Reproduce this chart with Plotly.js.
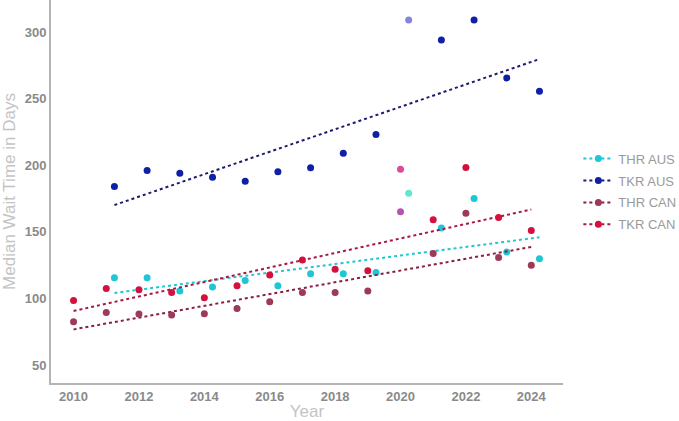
<!DOCTYPE html>
<html>
<head>
<meta charset="utf-8">
<script src="https://cdn.plot.ly/plotly-3.0.1.min.js"></script>
<style>
  html, body { margin: 0; padding: 0; background: #fff; }
  #chart { width: 679px; height: 421px; }
</style>
</head>
<body>
<div id="chart"></div>
<script>
// canada points sit on the calendar year, australia points a quarter later (fiscal year)
let can_years = [2010, 2011, 2012, 2013, 2014, 2015, 2016, 2017, 2018, 2019, 2020, 2021, 2022, 2023, 2024];
let aus_years = [2011.25, 2012.25, 2013.25, 2014.25, 2015.25, 2016.25, 2017.25, 2018.25, 2019.25, 2020.25, 2021.25, 2022.25, 2023.25, 2024.25];

let thr_aus = [115.5, 115.5, 105.5, 108.5, 113.5, 109.5, 118.5, 118.5, 119.5, 179, 152.8, 175, 134.8, 129.8];
let tkr_aus = [184, 196, 194, 191, 188, 195, 198, 209, 223, 309, 294, 309, 265.5, 255.5];
let thr_can = [82.5, 89.5, 88.3, 87.5, 88.5, 92.5, 97.5, 104.5, 104.5, 105.5, 165, 133.8, 164, 130.8, 124.8];
let tkr_can = [98.5, 107.5, 106.5, 104.5, 100.5, 109.5, 117.5, 128.8, 121.8, 120.8, 197, 159, 198.2, 160.8, 151];

// 2020 (covid) is drawn lighter and left out of the trend lines
let skip_year = 2020;

let series = [
    { name: "THR AUS", x: aus_years, y: thr_aus, color: "#1fc6d6", light: "#5ce8d2", trend: "#1fc6d6" },
    { name: "TKR AUS", x: aus_years, y: tkr_aus, color: "#1020a6", light: "#8484dc", trend: "#1c1c6e" },
    { name: "THR CAN", x: can_years, y: thr_can, color: "#9c3a58", light: "#b454b0", trend: "#8a1e44" },
    { name: "TKR CAN", x: can_years, y: tkr_can, color: "#d4103e", light: "#d84c98", trend: "#a81840" }
];

function fitLine(xs, ys) {
    let px = [], py = [];
    for (let i = 0; i < xs.length; i++) {
        if (Math.floor(xs[i]) == skip_year) continue;
        px.push(xs[i]);
        py.push(ys[i]);
    }
    let n = px.length, mx = 0, my = 0;
    for (let i = 0; i < n; i++) { mx += px[i]; my += py[i]; }
    mx /= n; my /= n;
    let sxy = 0, sxx = 0;
    for (let i = 0; i < n; i++) {
        sxy += (px[i] - mx) * (py[i] - my);
        sxx += (px[i] - mx) * (px[i] - mx);
    }
    let slope = sxy / sxx;
    let x0 = xs[0], x1 = xs[xs.length - 1];
    return { x: [x0, x1], y: [my + slope * (x0 - mx), my + slope * (x1 - mx)] };
}

let data = [];
series.forEach(function(s) {
    let colors = s.x.map(function(v) { return Math.floor(v) == skip_year ? s.light : s.color; });
    let fit = fitLine(s.x, s.y);
    data.push({
        x: fit.x, y: fit.y, type: "scatter", mode: "lines",
        line: { color: s.trend, width: 2, dash: "dot" },
        showlegend: false, hoverinfo: "skip", legendgroup: s.name
    });
    data.push({
        x: s.x, y: s.y, type: "scatter", mode: "markers",
        marker: { color: colors, size: 7 },
        name: s.name, showlegend: false, legendgroup: s.name
    });
});
// legend entries only (dotted line with a dot, like the original)
series.forEach(function(s) {
    data.push({
        x: [null], y: [null], type: "scatter", mode: "lines+markers",
        line: { color: s.trend, width: 2, dash: "dot" },
        marker: { color: s.color, size: 7 },
        name: s.name, legendgroup: s.name
    });
});

let tick_font = { family: "Liberation Sans, Arial, sans-serif", size: 13, color: "#8a8a8a", weight: "bold" };
let title_font = { family: "Liberation Sans, Arial, sans-serif", size: 17, color: "#c4c4c4" };

let layout = {
    width: 679,
    height: 421,
    margin: { l: 51, r: 116, t: 0, b: 38, autoexpand: false },
    paper_bgcolor: "#ffffff",
    plot_bgcolor: "#ffffff",
    showlegend: true,
    legend: {
        x: 1.03, y: 0.625, xanchor: "left", yanchor: "top",
        font: { family: "Liberation Sans, Arial, sans-serif", size: 13, color: "#9a9a9a" },
        tracegroupgap: 2, itemwidth: 30
    },
    xaxis: {
        range: [2009.31, 2024.97],
        tickvals: [2010, 2012, 2014, 2016, 2018, 2020, 2022, 2024],
        ticktext: ["2010", "2012", "2014", "2016", "2018", "2020", "2022", "2024"],
        showgrid: false, zeroline: false,
        showline: true, linecolor: "#b4b4b4", linewidth: 2,
        ticks: "", ticklen: 0,
        tickfont: tick_font,
        title: { text: "Year", font: title_font, standoff: 2 }
    },
    yaxis: {
        range: [36.5, 324],
        tickvals: [50, 100, 150, 200, 250, 300],
        showgrid: false, zeroline: false,
        showline: true, linecolor: "#b4b4b4", linewidth: 2,
        ticks: "", ticklen: 0,
        tickfont: tick_font,
        title: { text: "Median Wait Time in Days", font: title_font, standoff: 6 }
    }
};

Plotly.newPlot("chart", data, layout, { displayModeBar: false, staticPlot: true });
</script>
</body>
</html>
